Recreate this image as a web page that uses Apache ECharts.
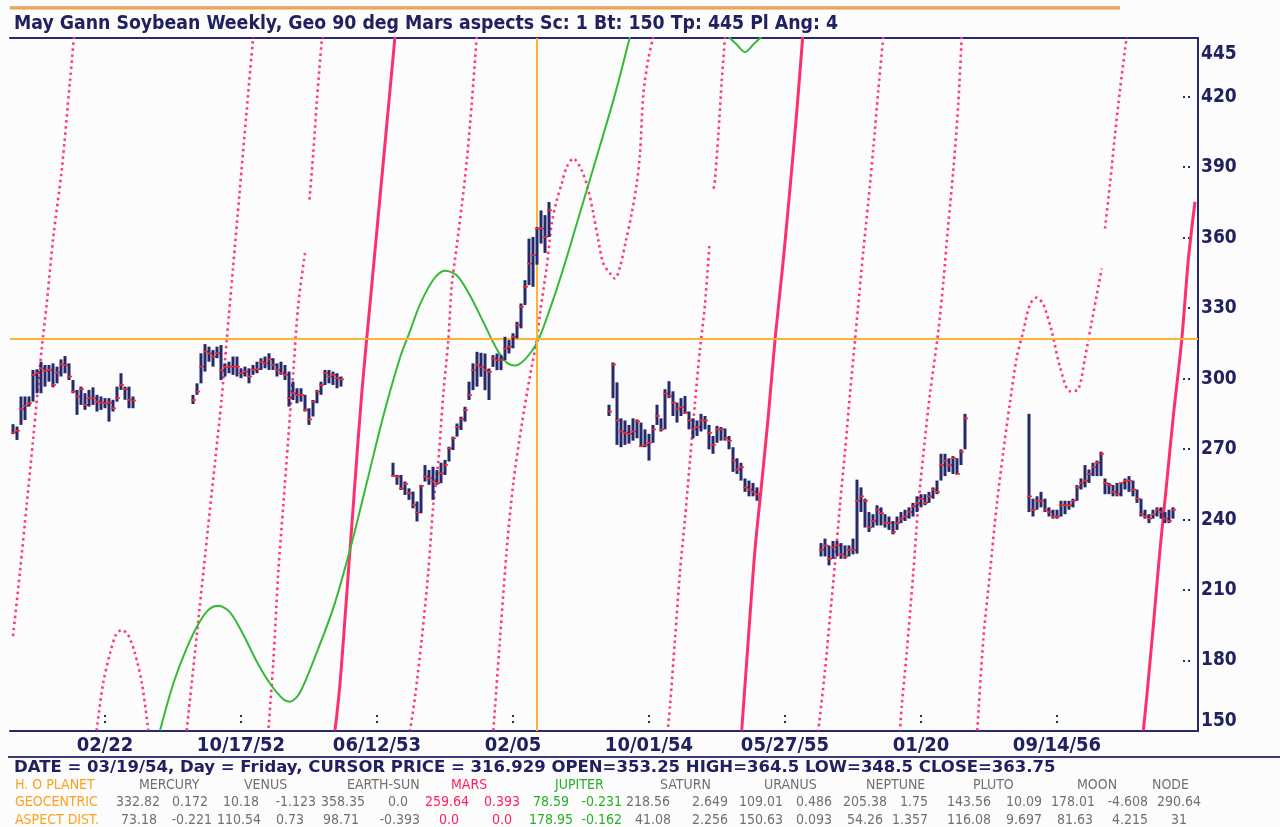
<!DOCTYPE html>
<html><head><meta charset="utf-8">
<script src="https://cdn.jsdelivr.net/npm/echarts@6/dist/echarts.min.js"></script>
<style>html,body{margin:0;padding:0;background:#fcfcfc;}#chart{width:1280px;height:827px;}</style>
</head><body><div id="chart"></div>
<script>
// ---------- text ----------
const titleText = 'May Gann Soybean Weekly, Geo 90 deg Mars aspects Sc: 1 Bt: 150 Tp: 445 Pl Ang: 4';
const cursorInfo = 'DATE = 03/19/54, Day = Friday, CURSOR PRICE = 316.929 OPEN=353.25 HIGH=364.5 LOW=348.5 CLOSE=363.75';

// ---------- axes (x = week index, 0 = 02/22/52) ----------
const tickWeeks = [0, 34, 68, 102, 136, 170, 204, 238];
const tickLabels = ['02/22', '10/17/52', '06/12/53', '02/05', '10/01/54', '05/27/55', '01/20', '09/14/56'];
const priceLabels = [150, 180, 210, 240, 270, 300, 330, 360, 390, 420, 445];
const priceTicks = [180, 210, 240, 270, 300, 330, 360, 390, 420];

// ---------- cursor ----------
const cursorWeek = 108;
const cursorPrice = 316.929;

// ---------- weekly bars: [high, low, close] ----------
const contractStart = [-23, 22, 72, 126, 179, 231];
const contract1 = [[280.6,276.4,277.1],[279.6,273.9,277.8],[292.4,280.3,287.0],[292.4,282.4,288.4],[292.4,288.1,289.5],[303.7,290.2,301.6],[304.0,293.8,302.3],[307.2,293.8,304.4],[305.8,296.6,303.3],[305.8,298.7,303.7],[306.5,296.3,297.3],[305.1,298.0,302.6],[308.2,300.9,306.1],[309.6,302.3,305.8],[306.5,299.4,300.9],[299.4,293.8,294.5],[295.2,284.6,292.4],[296.6,288.8,295.5],[293.8,286.7,288.8],[295.2,288.1,291.7],[296.3,288.8,291.7],[293.1,286.0,290.2],[292.4,286.7,289.8],[291.7,287.4,289.5],[291.7,281.7,289.8],[291.0,286.0,287.4],[296.6,290.2,291.7],[302.3,295.2,297.3],[296.6,291.0,295.5],[296.6,287.4,291.0],[292.4,287.4,290.7]];
const contract2 = [[293.1,289.2,290.9],[298.0,293.1,294.5],[310.8,298.0,305.1],[314.7,303.0,311.5],[313.6,307.2,310.8],[312.2,305.1,309.4],[313.6,308.7,310.8],[314.3,299.4,303.7],[306.5,300.9,305.1],[307.2,302.3,305.1],[309.4,301.6,305.1],[309.4,300.9,305.1],[304.4,300.2,302.3],[305.1,300.9,303.0],[304.4,298.0,300.9],[305.8,301.6,303.7],[307.2,302.3,304.0],[308.7,303.7,307.2],[309.4,304.4,306.5],[310.8,303.7,308.2],[308.7,303.7,305.8],[306.5,300.9,303.7],[307.2,301.6,302.3],[305.8,299.4,301.6],[303.0,288.1,291.7],[298.7,290.9,293.8],[295.9,289.5,293.1],[295.9,290.2,293.1],[293.1,286.0,286.7],[287.4,280.3,282.7],[290.9,283.9,290.2],[295.2,289.5,294.5],[298.7,293.1,297.3],[303.7,297.3,302.3],[303.7,298.0,300.9],[303.0,297.3,301.6],[302.3,295.9,300.2],[300.9,296.6,299.7]];
const contract3 = [[264.2,258.3,258.6],[259.0,254.8,258.3],[259.0,252.6,253.3],[256.2,250.5,255.2],[253.3,248.4,251.2],[251.9,244.8,246.2],[247.7,239.2,243.0],[254.8,242.7,254.3],[263.2,256.2,258.3],[261.1,254.8,257.6],[262.5,248.4,256.2],[261.1,254.8,255.5],[264.2,255.5,259.7],[265.4,259.0,263.2],[271.0,264.7,270.3],[275.3,269.6,274.6],[280.9,275.3,279.5],[283.8,278.1,282.7],[288.0,281.7,286.6],[298.7,290.9,293.0],[306.5,295.1,303.6],[311.4,296.6,305.8],[311.0,300.8,305.0],[310.7,295.1,303.6],[304.3,290.9,302.9],[310.0,305.0,308.6],[310.7,303.6,307.9],[310.0,303.6,307.9],[317.8,307.9,312.8],[316.4,310.7,313.6],[319.3,312.9,317.8],[324.2,317.1,322.8],[332.0,321.4,330.6],[341.9,331.3,339.1],[359.6,339.8,349.0],[360.3,339.1,352.5],[364.5,348.5,363.75],[371.6,357.5,363.9],[369.6,353.5,360.3],[375.2,360.3,371.7]];
const contract4 = [[288.9,284.1,286.0],[306.9,291.7,306.0],[298.4,271.8,282.2],[283.1,270.8,277.5],[282.2,271.8,276.9],[280.3,272.3,276.5],[283.1,273.6,277.5],[282.6,274.6,281.8],[281.3,271.2,271.2],[278.4,270.8,271.8],[276.5,265.1,272.7],[280.3,272.7,278.4],[288.9,280.3,284.1],[283.1,277.5,278.4],[295.5,278.4,293.6],[298.9,291.7,292.6],[294.6,284.1,289.8],[289.8,281.3,286.9],[291.7,284.1,287.9],[292.6,285.0,285.5],[286.0,278.4,282.2],[283.1,274.6,278.4],[282.2,275.6,279.4],[285.0,277.5,282.2],[284.1,278.4,282.2],[280.3,269.9,276.9],[275.6,268.0,271.8],[279.9,272.7,278.4],[279.4,273.6,278.4],[278.8,273.6,274.6],[275.6,269.9,273.6],[270.8,260.3,265.1],[266.1,259.4,261.3],[264.2,256.6,262.3],[257.5,251.8,253.7],[256.6,249.9,252.8],[255.6,249.9,251.8],[253.7,248.0,250.8]];
const contract5 = [[230.0,224.3,227.1],[231.9,224.3,229.0],[229.0,220.5,223.3],[230.9,223.3,228.1],[230.9,224.3,229.0],[230.0,223.3,225.2],[229.0,223.3,224.3],[229.0,224.3,227.1],[231.9,225.2,227.1],[257.0,225.5,248.0],[253.7,243.2,249.9],[248.9,236.6,248.0],[243.2,234.7,236.6],[242.3,236.6,239.4],[246.1,237.5,244.2],[245.2,237.5,242.7],[242.3,236.6,238.5],[241.3,235.6,238.5],[239.4,233.7,234.7],[241.3,235.6,238.5],[243.2,238.5,240.4],[244.2,239.4,241.3],[245.2,240.4,243.2],[247.1,241.3,245.7],[249.9,243.2,247.1],[250.8,245.2,248.9],[250.8,246.1,247.1],[251.8,247.1,249.9],[253.7,248.9,252.8],[256.6,250.8,251.8],[268.0,256.6,263.2],[268.0,258.5,265.1],[266.1,260.3,263.2],[267.0,259.4,266.1],[266.1,259.4,259.4],[269.9,263.2,268.9],[285.0,269.9,283.1]];
const contract6 = [[285.0,243.2,249.9],[248.9,241.3,244.2],[249.9,244.2,248.0],[251.8,245.2,248.0],[248.9,243.2,244.2],[245.2,241.3,243.2],[244.2,240.4,241.3],[244.2,240.4,241.3],[248.0,241.3,246.1],[248.0,242.3,246.1],[248.0,244.2,246.1],[248.9,245.2,248.0],[254.7,248.0,253.7],[257.5,252.8,255.6],[263.2,253.7,256.6],[261.3,255.6,259.4],[264.2,258.5,262.3],[265.1,258.5,264.2],[268.9,258.5,268.0],[257.5,250.8,255.6],[255.6,250.8,254.7],[254.7,249.9,251.8],[255.6,249.9,250.8],[255.6,249.9,255.6],[257.5,252.8,256.6],[258.5,251.8,256.6],[256.6,249.9,252.8],[252.8,247.1,248.9],[248.9,241.3,242.3],[244.2,240.4,241.3],[242.3,238.5,240.4],[244.2,240.4,242.3],[245.2,241.3,244.2],[245.2,240.4,243.2],[243.2,238.5,240.4],[244.2,238.5,239.4],[245.2,240.4,244.2]];

// ---------- Mars aspect lines: [week, price] ----------
const marsDot1 = [[-7.75,445.6],[-8.75,426.6],[-10.83,388.7],[-12.93,360.2],[-14.58,331.7],[-15.83,312.6],[-17.93,274.8],[-19.58,246.3],[-21.25,217.8],[-23.08,189.1]];
const marsDot2 = [[-2.08,150.2],[-0.5,170],[1.25,183],[2.75,191],[4.18,193],[5.75,191],[7.5,183],[9.25,170],[10.83,150.2]];
const marsDot3 = [[20.43,150.2],[23.43,198.7],[25.75,236.5],[27.53,265],[29.13,290.9],[30.43,316.4],[32,347],[33.65,379.3],[35.38,413.3],[37.05,445.6]];
const marsDot4a = [[54.5,446],[54.18,443.7],[52.93,417.2],[52.08,396.3],[51.08,375.3]];
const marsDot4b = [[50,353.5],[48.33,331.7],[47.08,303.2],[45.83,274.8],[44.58,246.3],[43.33,217.8],[42.08,179.5],[40.83,150.2]];
const marsDot6 = [[92.93,445.6],[91.68,417.2],[90.43,392.5],[89.18,373.4],[87.93,356.4],[86.68,339.4],[85.83,316.4],[84.58,293.6],[83.33,265],[82.08,246.3],[80.83,217.8],[79.18,189.1],[77.5,164.4],[76.25,150.2]];
const marsDot7 = [[97.08,150.2],[98.75,189.1],[100.43,227.2],[102.08,255.6],[104.18,280.3],[106.25,301.2],[107.93,316.4],[108.75,327.8],[110.43,347.6],[111.68,366],[112.93,375.9],[114.18,383],[115.43,390.1],[117.08,393.7],[119.18,388.7],[120.83,380.2],[122.08,370.3],[123.33,358.9],[124.58,349],[126.25,344.8],[127.5,342.6],[128.75,347.6],[130.25,358.9],[131.68,370.3],[132.93,383],[133.75,395.8],[134.58,421],[135.83,436.1],[137.08,445.6]];
const marsDot8a = [[155,445.6],[154.18,426.6],[153.33,404],[152.5,384.9],[152.08,380.1]];
const marsDot8b = [[151.08,356.4],[150,331.7],[148.75,312.6],[147.5,289.9],[146.25,265.1],[145,240.4],[143.75,217.8],[142.5,189.1],[141.25,160.6],[140.68,150.2]];
const marsDot10 = [[194.58,445.6],[193.33,422.9],[192.08,398.1],[190.83,375.3],[189.58,354.4],[188.33,331.7],[187.5,316.4],[186.25,293.6],[185,268.9],[183.75,246.3],[182.5,221.4],[181.25,198.7],[180,175.8],[178.33,150.2]];
const marsDot11 = [[214.18,445.6],[213.33,417.2],[212.08,388.7],[210.83,365.9],[209.58,341.1],[208.33,320.2],[206.25,293.6],[205,274.6],[203.33,246.1],[202.08,217.6],[200.43,183.4],[199.18,160.6],[198.75,150.2]];
const marsDot12a = [[218.08,150.2],[219.58,189.1],[221.25,217.6],[222.93,246.1],[224.58,268.9],[226.25,289.9],[227.93,308.9],[229.58,320.2],[231.25,331.6],[232.93,334.5],[234.58,331.6],[236.68,320.2],[238.75,305],[241.25,294.6],[243.33,295.5],[245,308.9],[246.68,324.1],[247.93,335.4],[249.18,346.9]];
const marsDot12b = [[250,363.9],[251.25,382.9],[252.5,403.9],[253.75,422.9],[255,440],[255.43,445.6]];
const marsSolid5 = [[72.5,445.6],[70.43,407.8],[68.33,369.6],[66.25,331.7],[64.18,293.6],[62.08,246.3],[60.43,208],[58.75,170.2],[57.5,150.2]];
const marsSolid9 = [[174.43,445.6],[172.93,413.3],[171.25,381],[169.58,350.6],[167.5,316.4],[165.83,284.1],[164.18,255.6],[162.5,227.2],[160.83,189.1],[159.18,150.2]];
const marsSolid13 = [[272.5,375.3],[270.83,350.6],[269.18,316.4],[267.08,284.1],[265.43,255.6],[263.75,227.2],[262.08,194.8],[260.43,164.4],[259.58,150.2]];

// ---------- green planet line: [week, price] ----------
const greenLine = [[13.75,150.2],[17.08,170.2],[20.43,185.3],[23.75,196.7],[26.25,202.1],[28.33,203.3],[31.25,200.5],[34.58,191],[37.93,179.6],[41.25,170.2],[44.58,163.5],[46.25,162.5],[48.75,166.4],[52.93,183.4],[57.08,202.4],[61.25,227.2],[65.43,255.6],[69.58,284.1],[73.75,308.9],[76.25,320.2],[78.75,331.6],[82.08,342.1],[85,345.9],[87.93,344],[91.25,335.4],[94.58,324.1],[97.93,312.6],[100.43,306.9],[102.5,305.6],[104.18,306.9],[106.25,310.7],[108.33,316.4],[111.25,329.7],[114.58,346.9],[117.93,365.9],[121.25,384.9],[123.75,399.1],[127.5,421],[131.25,445.6]];
const greenCup = [[155.83,445.6],[157.93,442.2],[160,439],[162.08,442.2],[164.18,445.6]];

// ---------- planet table ----------
const planetNames = ['MERCURY','VENUS','EARTH-SUN','MARS','JUPITER','SATURN','URANUS','NEPTUNE','PLUTO','MOON','NODE'];
const geoValues = ['332.82','0.172','10.18','-1.123','358.35','0.0','259.64','0.393','78.59','-0.231','218.56','2.649','109.01','0.486','205.38','1.75','143.56','10.09','178.01','-4.608','290.64'];
const aspectValues = ['73.18','-0.221','110.54','0.73','98.71','-0.393','0.0','0.0','178.95','-0.162','41.08','2.256','150.63','0.093','54.26','1.357','116.08','9.697','81.63','4.215','31'];
const rowLabels = ['H. O PLANET','GEOCENTRIC','ASPECT DIST.'];

// ---------- build ----------
const NAVY = '#262a6c';
const PINK = '#ff3a7a';
const PINK_SOLID = '#ff2f6c';
const GREEN = '#36b936';
const ORANGE = '#ffb330';
const GRAY = '#707070';
const RED_T = '#ff1f5a';
const GREEN_T = '#25b025';
const ORANGE_T = '#fca21c';
const FONT = 'DejaVu Sans Condensed';

const contracts = [contract1, contract2, contract3, contract4, contract5, contract6];
const bars = [];
contracts.forEach((c, ci) => c.forEach((b, k) => bars.push([contractStart[ci] + k, b[0], b[1], b[2]])));

function lineSer(data, kind, extra) {
  const style = kind === 'dot' ? {color: PINK, width: 2.6, type: [2.5, 3.5]}
    : kind === 'solid' ? {color: PINK_SOLID, width: 3}
    : {color: GREEN, width: 2};
  return Object.assign({
    type: 'line', data: data, showSymbol: false, symbol: 'none', smooth: 0.3,
    lineStyle: style, z: kind === 'green' ? 4 : 3, silent: true, clip: true, animation: false
  }, extra || {});
}

const series = [
  lineSer(marsDot1, 'dot', {
    markLine: {silent: true, symbol: 'none', animation: false, label: {show: false},
      lineStyle: {color: ORANGE, width: 2, type: 'solid'},
      data: [{xAxis: cursorWeek}, {yAxis: cursorPrice}]}
  }),
  lineSer(marsDot2, 'dot'), lineSer(marsDot3, 'dot'), lineSer(marsDot4a, 'dot'), lineSer(marsDot4b, 'dot'),
  lineSer(marsDot6, 'dot'), lineSer(marsDot7, 'dot'), lineSer(marsDot8a, 'dot'), lineSer(marsDot8b, 'dot'),
  lineSer(marsDot10, 'dot'), lineSer(marsDot11, 'dot'), lineSer(marsDot12a, 'dot'), lineSer(marsDot12b, 'dot'),
  lineSer(marsSolid5, 'solid'), lineSer(marsSolid9, 'solid'), lineSer(marsSolid13, 'solid'),
  lineSer(greenLine, 'green'), lineSer(greenCup, 'green'),
  {
    type: 'custom', data: bars, z: 5, silent: true, animation: false,
    encode: {x: 0, y: [1, 2]},
    renderItem: function (params, api) {
      const w = api.value(0);
      const hi = api.coord([w, api.value(1)]);
      const lo = api.coord([w, api.value(2)]);
      const cl = api.coord([w, api.value(3)]);
      return {type: 'group', children: [
        {type: 'rect', shape: {x: hi[0] - 1.5, y: hi[1], width: 3, height: Math.max(lo[1] - hi[1], 1)}, style: {fill: NAVY}},
        {type: 'line', shape: {x1: cl[0] - 2, y1: cl[1], x2: cl[0] + 3, y2: cl[1]}, style: {stroke: '#ff2a2a', lineWidth: 1.6}}
      ]};
    }
  }
];

// graphic elements: header lines, title, info row, planet table
const nameX = [139, 244, 347, 451, 555, 660, 764, 866, 973, 1077, 1152];
const geoRight = [160, 208, 259, 316, 365, 408, 469, 520, 569, 622, 670, 728, 783, 832, 887, 928, 991, 1042, 1095, 1148, 1201];
const aspRight = [157, 212, 261, 304, 359, 420, 459, 512, 573, 622, 671, 728, 783, 832, 883, 928, 991, 1042, 1093, 1148, 1187];
const rowY = [785, 802.5, 820];
function txt(str, x, y, color, size, weight, align, family) {
  return {type: 'text', silent: true, style: {text: str, x: x, y: y, fill: color,
    font: (weight || 'normal') + ' ' + size + 'px "' + (family || FONT) + '"',
    textAlign: align || 'left', align: align || 'left', textVerticalAlign: 'middle', verticalAlign: 'middle'}};
}
function valColor(i) { return (i === 6 || i === 7) ? RED_T : (i === 8 || i === 9) ? GREEN_T : GRAY; }
const graphics = [
  {type: 'line', silent: true, shape: {x1: 10, y1: 7, x2: 1120, y2: 7}, style: {stroke: '#a5683c', lineWidth: 1}},
  {type: 'line', silent: true, shape: {x1: 10, y1: 8.5, x2: 1120, y2: 8.5}, style: {stroke: '#f4a23a', lineWidth: 2}},
  txt(titleText, 14, 24, '#1f2160', 19.3, 'bold'),
  {type: 'line', silent: true, shape: {x1: 8, y1: 757, x2: 1280, y2: 757}, style: {stroke: '#3b3d7a', lineWidth: 2}},
  txt(cursorInfo, 14, 767.5, '#1f2160', 16.5, 'bold', 'left', 'DejaVu Sans'),
];
rowLabels.forEach((s, r) => graphics.push(txt(s, 15, rowY[r], ORANGE_T, 14)));
planetNames.forEach((s, i) => graphics.push(txt(s, nameX[i], rowY[0], i === 3 ? RED_T : i === 4 ? GREEN_T : GRAY, 14)));
geoValues.forEach((s, i) => graphics.push(txt(s, geoRight[i], rowY[1], valColor(i), 14, 'normal', 'right')));
aspectValues.forEach((s, i) => graphics.push(txt(s, aspRight[i], rowY[2], valColor(i), 14, 'normal', 'right')));

const chart = echarts.init(document.getElementById('chart'), null, {renderer: 'canvas'});
chart.setOption({
  backgroundColor: '#fcfcfc',
  animation: false,
  grid: {left: 10, right: 82, top: 38, bottom: 96, containLabel: false},
  xAxis: [{
    type: 'value', min: -23.75, max: 273.25, position: 'bottom',
    axisLine: {show: true, onZero: false, lineStyle: {color: NAVY, width: 2}},
    axisTick: {show: true, inside: true, length: 16, customValues: tickWeeks,
      lineStyle: {color: NAVY, width: 2, type: [0, 8, 2, 4, 2, 40]}},
    axisLabel: {customValues: tickWeeks, margin: 5, color: '#1f2160', fontFamily: FONT, fontSize: 20, fontWeight: 'bold',
      formatter: v => tickLabels[tickWeeks.indexOf(Math.round(v))] || ''},
    splitLine: {show: false}
  }, {
    type: 'value', min: -23.75, max: 273.25, position: 'top',
    axisLine: {show: true, onZero: false, lineStyle: {color: NAVY, width: 2}},
    axisTick: {show: false}, axisLabel: {show: false}, splitLine: {show: false}
  }],
  yAxis: {
    type: 'value', min: 150, max: 445, position: 'right',
    axisLine: {show: true, onZero: false, lineStyle: {color: NAVY, width: 2}},
    axisTick: {show: true, inside: true, length: 15, customValues: priceTicks,
      lineStyle: {color: NAVY, width: 2, type: [0, 8, 2, 3, 2, 40]}},
    axisLabel: {customValues: priceLabels, margin: 3, color: '#1f2160', fontFamily: FONT, fontSize: 19, fontWeight: 'bold',
      formatter: v => v === 445 ? '{hi|445}' : v === 150 ? '{lo|150}' : String(v),
      rich: {
        hi: {padding: [32, 0, 0, 0], color: '#1f2160', fontFamily: FONT, fontSize: 19, fontWeight: 'bold'},
        lo: {padding: [0, 0, 20, 0], color: '#1f2160', fontFamily: FONT, fontSize: 19, fontWeight: 'bold'}
      }},
    splitLine: {show: false}
  },
  graphic: graphics,
  series: series
});
</script>
</body></html>
